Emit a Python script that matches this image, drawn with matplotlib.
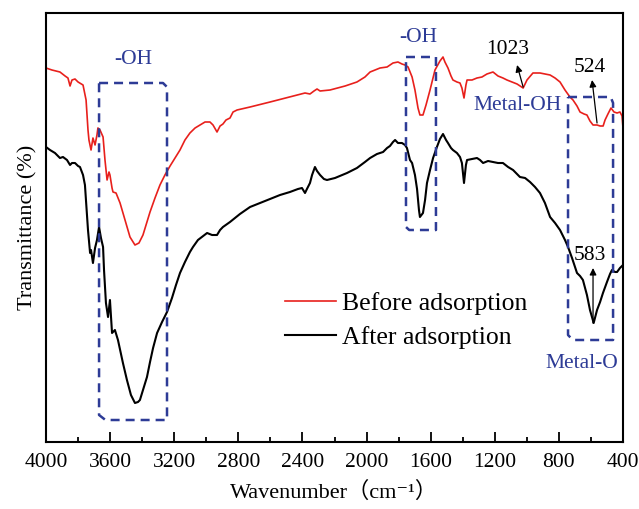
import matplotlib
matplotlib.use("Agg")
import matplotlib.pyplot as plt
import numpy as np

plt.rcParams['font.family'] = ['Liberation Serif', 'Noto Sans CJK SC', 'DejaVu Sans']

# ---------------- data (wavenumber cm-1, transmittance a.u.) ----------------
before_wn = [4000, 3963, 3913, 3881, 3863, 3850, 3838, 3819, 3800, 3769, 3750, 3738, 3732, 3719,
             3707, 3694, 3682, 3676, 3663, 3644, 3632, 3619, 3607, 3601, 3588, 3582, 3563, 3538,
             3507, 3476, 3445, 3420, 3395, 3376, 3351, 3320, 3289, 3258, 3226, 3195, 3164, 3133,
             3102, 3070, 3039, 3008, 2977, 2958, 2933, 2914, 2896, 2877, 2852, 2833, 2808, 2727,
             2602, 2434, 2384, 2353, 2328, 2309, 2290, 2228, 2134, 2060, 2010, 1978, 1916, 1872,
             1835, 1804, 1779, 1760, 1741, 1716, 1698, 1679, 1667, 1648, 1629, 1604, 1585, 1573,
             1542, 1523, 1511, 1492, 1473, 1461, 1436, 1417, 1405, 1392, 1380, 1373, 1342, 1311,
             1280, 1249, 1211, 1180, 1149, 1124, 1093, 1061, 1023, 999, 962, 918, 887, 855, 824,
             793, 762, 731, 712, 687, 668, 643, 625, 606, 587, 562, 543, 524, 512, 494, 475, 456,
             437, 419, 406, 400]
before_t = [374, 372, 370, 366, 364, 356, 362, 363, 360, 357, 342, 312, 302, 292,
            304, 297, 307, 314, 312, 305, 282, 262, 270, 267, 254, 250, 249, 239,
            222, 205, 197, 199, 207, 217, 230, 244, 257, 267, 276, 284, 292, 302,
            309, 314, 317, 320, 320, 317, 310, 316, 318, 322, 324, 330, 332, 335,
            340, 347, 349, 348, 351, 353, 351, 352, 356, 360, 365, 370, 374, 375,
            379, 380, 378, 377, 375, 365, 352, 334, 327, 327, 337, 352, 364, 372,
            381, 385, 380, 374, 366, 362, 360, 359, 354, 344, 357, 362, 362, 364,
            365, 368, 370, 366, 364, 362, 360, 358, 354, 362, 369, 369, 368, 367, 364,
            360, 352, 345, 342, 336, 330, 328, 327, 321, 317, 317, 316, 316, 322, 328, 334, 330,
            329, 330, 326, 314]

after_wn = [4000, 3975, 3944, 3913, 3894, 3869, 3850, 3838, 3819, 3800, 3788, 3769, 3757, 3744,
            3738, 3725, 3719, 3707, 3694, 3682, 3669, 3657, 3644, 3638, 3626, 3613, 3607, 3601,
            3594, 3588, 3570, 3551, 3520, 3495, 3470, 3445, 3426, 3414, 3395, 3370, 3351, 3332,
            3307, 3276, 3245, 3214, 3189, 3164, 3133, 3102, 3083, 3052, 3020, 2995, 2964, 2933,
            2914, 2896, 2852, 2790, 2727, 2665, 2602, 2540, 2478, 2428, 2403, 2384, 2372, 2353,
            2340, 2322, 2309, 2290, 2266, 2247, 2197, 2122, 2060, 2010, 1978, 1935, 1897, 1872,
            1854, 1835, 1822, 1804, 1779, 1760, 1748, 1729, 1716, 1698, 1685, 1673, 1667, 1648,
            1635, 1623, 1604, 1585, 1561, 1542, 1523, 1504, 1492, 1473, 1461, 1436, 1417, 1405,
            1392, 1380, 1373, 1342, 1311, 1292, 1273, 1242, 1211, 1180, 1149, 1117, 1086, 1061,
            1043, 1011, 980, 949, 918, 887, 855, 824, 793, 762, 743, 718, 687, 668, 650, 625,
            606, 583, 575, 562, 543, 525, 500, 481, 469, 450, 437, 419, 400]
after_t = [295, 292, 289, 284, 285, 282, 277, 279, 279, 276, 275, 267, 257, 227,
           212, 189, 192, 179, 194, 202, 215, 204, 195, 172, 139, 125, 134, 142,
           124, 109, 112, 102, 79, 62, 47, 39, 40, 42, 52, 65, 80, 94,
           109, 120, 130, 144, 157, 169, 180, 190, 195, 202, 206, 209, 207, 207,
           212, 215, 220, 228, 235, 239, 243, 247, 250, 253, 254, 249, 253, 259,
           267, 275, 271, 267, 263, 262, 264, 269, 274, 280, 284, 288, 290, 294,
           296, 300, 302, 299, 299, 297, 294, 282, 279, 267, 253, 232, 225, 229,
           242, 259, 272, 284, 295, 303, 308, 302, 299, 294, 292, 289, 285, 279,
           259, 277, 282, 283, 284, 282, 279, 281, 280, 279, 279, 275, 272, 268,
           265, 264, 260, 255, 249, 239, 225, 219, 212, 202, 195, 184, 169, 166, 162, 147,
           132, 119, 124, 132, 140, 149, 160, 168, 172, 170, 170, 174, 177]

series_labels = ["Before adsorption", "After adsorption"]
x_ticks = [4000, 3600, 3200, 2800, 2400, 2000, 1600, 1200, 800, 400]

# annotation boxes (wavenumber range, transmittance range)
box_oh1 = dict(x0=3669, x1=3245, y0=22, y1=359)
box_oh2 = dict(x0=1754, x1=1567, y0=212, y1=385)
box_metal = dict(x0=743, x1=462, y0=102, y1=345)

# ---------------- figure ----------------
fig = plt.figure(figsize=(6.39, 5.09), dpi=100)
ax = fig.add_axes([46/639, 1-442/509, 577/639, 429/509])

red = '#e8201c'
blue = '#2d3b96'

ax.plot(before_wn, before_t, color=red, lw=1.2, label=series_labels[0])
ax.plot(after_wn, after_t, color='black', lw=1.5, label=series_labels[1])

ax.set_xlim(4000, 400)
ax.set_ylim(0, 429)
ax.set_xticks(x_ticks)
ax.set_xticks(np.arange(3800, 400, -400), minor=True)
ax.tick_params(axis='x', which='major', direction='in', length=7, width=1.3, labelsize=15.5, pad=8)
ax.tick_params(axis='x', which='minor', direction='in', length=3.5, width=1.3)
ax.set_yticks([])
for s in ax.spines.values():
    s.set_linewidth(1.5)

ax.set_xlabel('Wavenumber（cm\u207b\u00b9）', fontsize=16, labelpad=7)
ax.set_ylabel('Transmittance (%)', fontsize=16, labelpad=6)

# dashed boxes with chamfered corners
def dbox(b, ch_tr=(25, 4), ch_bl=(40, 5)):
    x0, x1, y0, y1 = b['x0'], b['x1'], b['y0'], b['y1']
    xs = [x0, x1 + ch_tr[0], x1, x1, x0 - ch_bl[0], x0, x0]
    ys = [y1, y1, y1 - ch_tr[1], y0, y0, y0 + ch_bl[1], y1]
    ax.plot(xs, ys, color=blue, lw=1.8, dashes=(3.6, 2.4), solid_capstyle='butt')

dbox(box_oh1)
dbox(box_oh2, ch_tr=(0, 0), ch_bl=(20, 3))
dbox(box_metal, ch_tr=(15, 6), ch_bl=(30, 5))

tkw = dict(fontsize=15.5, ha='center', va='center')
ax.text(3457, 382, '-OH', color=blue, **tkw)
ax.text(1679, 405, '-OH', color=blue, **tkw)
ax.text(1061, 336, 'Metal-OH', color=blue, **tkw)
ax.text(656, 79, 'Metal-O', color=blue, **tkw)
ax.text(1118, 392, '1023', color='black', **tkw)
ax.text(606, 374, '524', color='black', **tkw)
ax.text(606, 187, '583', color='black', **tkw)

akw = dict(arrowstyle='-|>', color='black', lw=0.9, mutation_scale=10, shrinkA=0, shrinkB=0)
ax.annotate('', xy=(1061, 377), xytext=(1023, 355), arrowprops=akw)
ax.annotate('', xy=(593, 362), xytext=(562, 319), arrowprops=akw)
ax.annotate('', xy=(587, 174), xytext=(587, 119), arrowprops=akw)

ax.legend(loc='upper left', bbox_to_anchor=(0.415, 0.35), frameon=False, fontsize=18.5,
          handlelength=1.95, handletextpad=0.25, labelspacing=0.45, borderpad=0, borderaxespad=0)

fig.savefig('out.png', dpi=100)
